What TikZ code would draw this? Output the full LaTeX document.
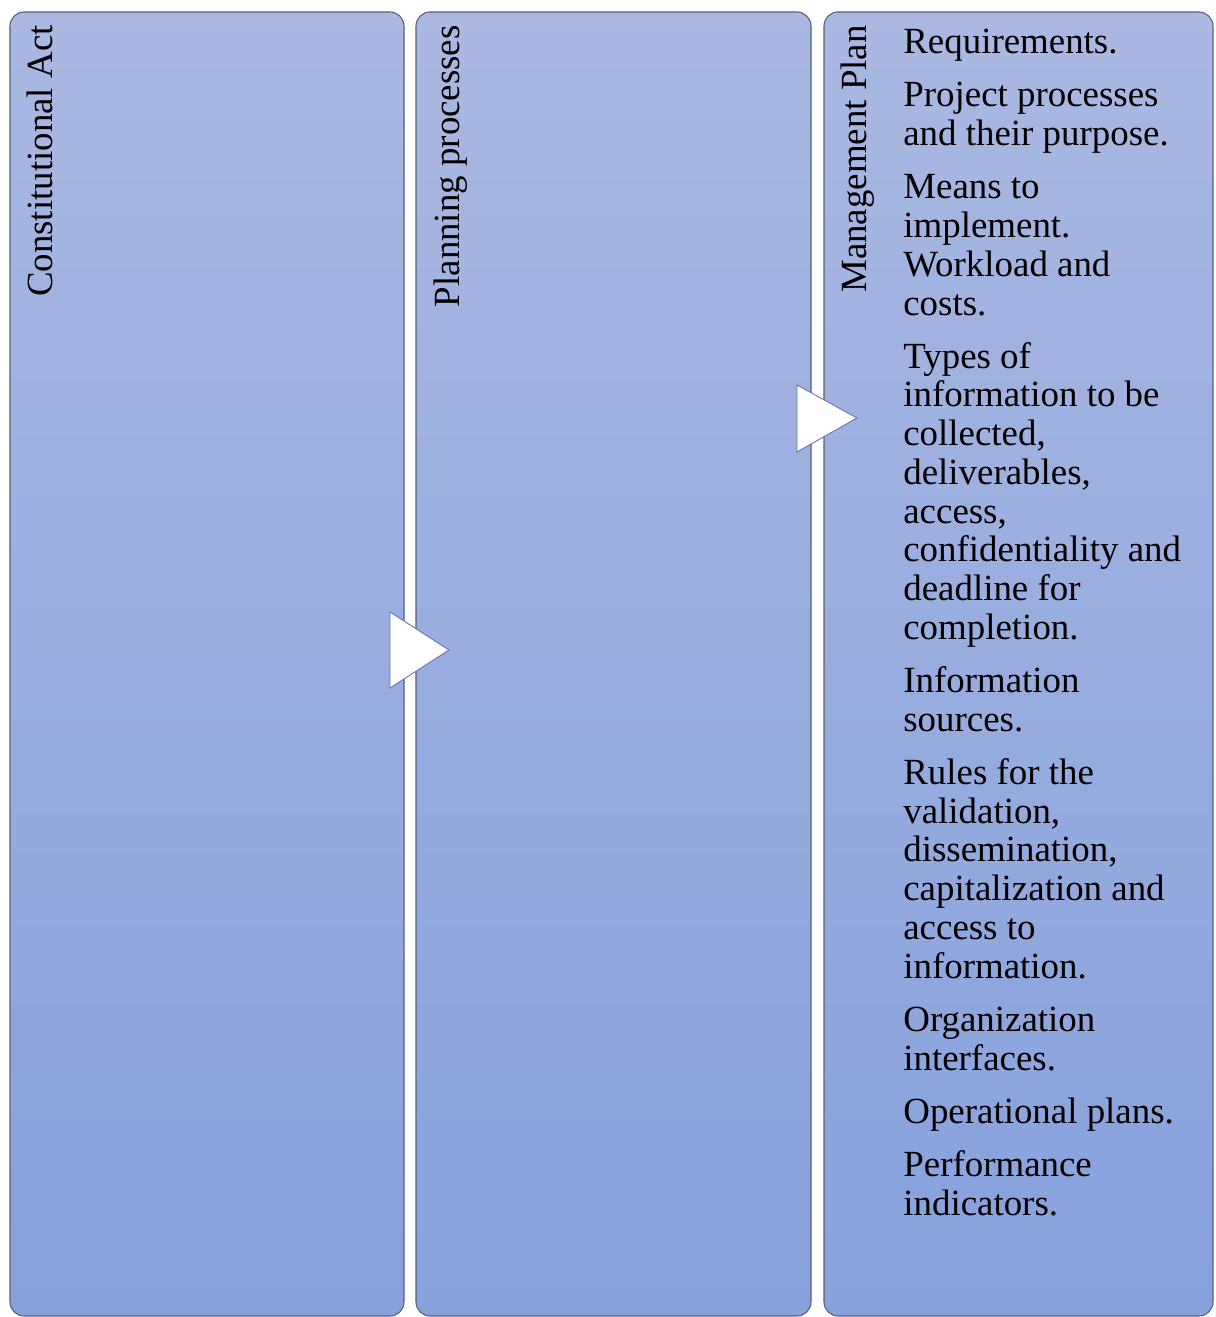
\documentclass[tikz,border=0pt]{standalone}
\usepackage{fontspec}
\setmainfont{Liberation Serif}
\usetikzlibrary{shapes,calc,positioning}
\definecolor{boxtop}{HTML}{AAB8E2}
\definecolor{boxbottom}{HTML}{87A1DC}
\definecolor{boxline}{HTML}{56607C}
\definecolor{tipline}{HTML}{5F72B8}

\begin{document}
\begin{tikzpicture}[x=0.02cm,y=-0.02cm]
		\tikzstyle{every node}=[font=\fontsize{21}{22.05}\selectfont, inner sep=0pt]
		\tikzstyle{panelbox}=[draw=boxline, line width=0.6pt, rounded corners=8pt, top color=boxtop, bottom color=boxbottom]
		\tikzstyle{pointer}=[draw=tipline, line width=0.5pt, fill=white]
		\useasboundingbox (0,0) rectangle (1215,1317);
		% the three columns
		\draw [panelbox] (10,12) rectangle (404,1316);
		\draw [panelbox] (416,12) rectangle (811,1316);
		\draw [panelbox] (824,12) rectangle (1213,1316);
		% pointers between columns
		\draw [pointer] (390,612) -- (449,650) -- (390,688) -- cycle;
		\draw [pointer] (797,385) -- (857,418) -- (797,452) -- cycle;
		% column titles
		\node [rotate=90, anchor=east] (constact) at (40,25) {Constitutional Act};
		\node [rotate=90, anchor=east] (planproc) at (451,25) {Planning processes};
		\node [rotate=90, anchor=east] (mgmtplan) at (858,25) {Management Plan};
		\node [anchor=north west, align=left] (planitems) at (903,29) {Requirements.\\[8.2pt]
			Project processes\\ and their purpose.\\[8.2pt]
			Means to\\ implement.\\ Workload and\\ costs.\\[8.2pt]
			Types of\\ information to be\\ collected,\\ deliverables,\\ access,\\ confidentiality and\\ deadline for\\ completion.\\[8.2pt]
			Information\\ sources.\\[8.2pt]
			Rules for the\\ validation,\\ dissemination,\\ capitalization and\\ access to\\ information.\\[8.2pt]
			Organization\\ interfaces.\\[8.2pt]
			Operational plans.\\[8.2pt]
			Performance\\ indicators.};
	\end{tikzpicture}
\end{document}
